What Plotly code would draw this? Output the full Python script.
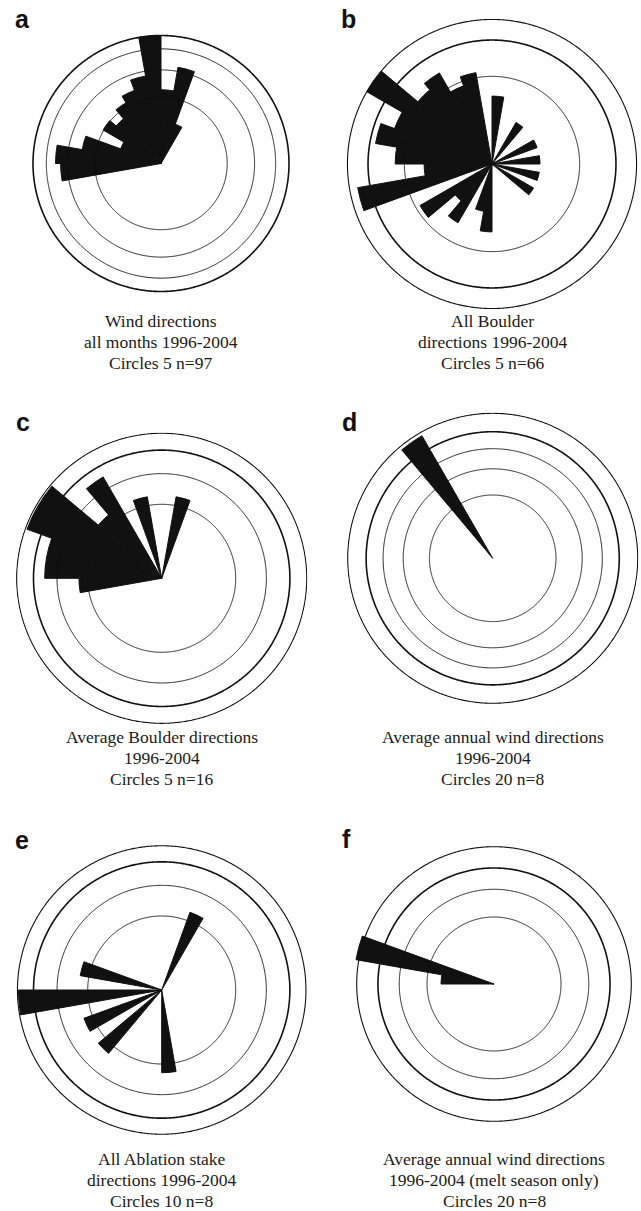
import numpy as np
import plotly.graph_objects as go

W, H = 641, 1211

# ---------------- data (percent of observations per 10-degree bin) ----------------
# a: Wind directions, all months 1996-2004, n=97
a_theta = [5, 15, 25, 265, 275, 285, 295, 305, 315, 325, 335, 345, 355]
a_pct = [6.2, 10.9, 2.0, 11.5, 12.7, 7.3, 2.1, 5.1, 3.9, 5.6, 6.9, 9.0, 18.7]
a_rings = [5, 10, 15, 18.7]
a_thick = [18.7]
a_caption = ["Wind directions", "all months 1996-2004", "Circles 5 n=97"]

# b: All Boulder directions 1996-2004, n=66
b_theta = [5, 35, 65, 85, 105, 125, 185, 195, 215, 225, 235,
           255, 265, 275, 285, 295, 305, 315, 325, 335, 345]
b_pct = [3.0, 1.5, 1.5, 1.5, 1.5, 1.5, 3.0, 1.5, 3.0, 1.5, 4.5,
         12.1, 3.0, 6.1, 9.1, 7.0, 13.6, 6.1, 7.2, 4.5, 5.6]
b_rings = [5, 10, 13.6]
b_thick = [10]
b_caption = ["All Boulder", "directions 1996-2004", "Circles 5 n=66"]

# c: Average Boulder directions 1996-2004, n=16
c_theta = [15, 265, 275, 285, 295, 305, 315, 325, 345]
c_pct = [6.25, 6.25, 12.5, 12.5, 18.75, 18.75, 6.25, 12.5, 6.25]
c_rings = [5, 10, 15, 19.2]
c_thick = [15]
c_caption = ["Average Boulder directions", "1996-2004", "Circles 5 n=16"]

# d: Average annual wind directions 1996-2004, n=8
d_theta = [325]
d_pct = [100.0]
d_rings = [20, 40, 60, 80, 105]
d_thick = [80]
d_caption = ["Average annual wind directions", "1996-2004", "Circles 20 n=8"]

# e: All Ablation stake directions 1996-2004, n=8
e_theta = [25, 175, 225, 245, 265, 285]
e_pct = [12.5, 12.5, 12.5, 12.5, 37.5, 12.5]
e_rings = [10, 20, 30, 38]
e_thick = [30]
e_caption = ["All Ablation stake", "directions 1996-2004", "Circles 10 n=8"]

# f: Average annual wind directions 1996-2004 (melt season only), n=8
f_theta = [275, 285]
f_pct = [12.5, 87.5]
f_rings = [20, 40, 60, 84]
f_thick = [60]
f_caption = ["Average annual wind directions", "1996-2004 (melt season only)", "Circles 20 n=8"]

labels = ["a", "b", "c", "d", "e", "f"]

panels = [
    (a_theta, a_pct, a_rings, a_thick, a_caption),
    (b_theta, b_pct, b_rings, b_thick, b_caption),
    (c_theta, c_pct, c_rings, c_thick, c_caption),
    (d_theta, d_pct, d_rings, d_thick, d_caption),
    (e_theta, e_pct, e_rings, e_thick, e_caption),
    (f_theta, f_pct, f_rings, f_thick, f_caption),
]

# ---------------- layout geometry (pixels) ----------------
centers = [(161, 163.5), (492, 164), (161.7, 578.3), (492.7, 558.3), (161.7, 990), (494, 984)]
scale_k = [29.6, 39.2, 33.1, 14.15, 23.4, 14.98]   # px per sqrt(percent)
R_DOM = 146
caption_y = [(321, 342, 362.5), (321, 342, 362.5), (737, 758, 779),
             (737, 758, 779), (1159, 1180, 1201), (1159, 1180, 1201)]
label_pos = [(13, 18.5), (339, 18.5), (14, 422), (339.5, 422), (13, 839.5), (340, 839)]

INK = "#111111"

fig = go.Figure()
layout_polars = {}
annotations = []

for i, (theta, pct, rings, thick, caption) in enumerate(panels):
    name = "polar" if i == 0 else f"polar{i+1}"
    cx, cy = centers[i]
    k = scale_k[i]
    rmax = R_DOM / k
    ring_theta = np.linspace(0, 360, 721)
    for j, rv in enumerate(rings):
        is_thick = rv in thick
        width = 1.6 if is_thick else (1.1 if j == len(rings) - 1 else 0.9)
        fig.add_trace(go.Scatterpolar(
            r=[np.sqrt(rv)] * len(ring_theta), theta=ring_theta, mode="lines",
            line=dict(color=INK, width=width), hoverinfo="skip", cliponaxis=False,
            subplot=name, showlegend=False))
    fig.add_trace(go.Barpolar(
        r=np.sqrt(np.array(pct, dtype=float)), theta=theta, width=[10] * len(theta),
        marker=dict(color=INK, line=dict(color=INK, width=1.0)),
        subplot=name, showlegend=False))
    layout_polars[name] = dict(
        domain=dict(x=[max(0, (cx - R_DOM) / W), min(1, (cx + R_DOM) / W)],
                    y=[max(0, 1 - (cy + R_DOM) / H), min(1, 1 - (cy - R_DOM) / H)]),
        bgcolor="rgba(0,0,0,0)",
        radialaxis=dict(visible=False, range=[0, rmax], showgrid=False, showline=False),
        angularaxis=dict(visible=False, rotation=90, direction="clockwise",
                         showgrid=False, showline=False),
        bargap=0,
    )
    for line_text, ly in zip(caption, caption_y[i]):
        annotations.append(dict(
            text=line_text, x=cx / W, y=1 - ly / H, xref="paper", yref="paper",
            xanchor="center", yanchor="middle", showarrow=False,
            font=dict(family="Liberation Serif", size=17.5, color="#1a1a1a")))
    lx, ly = label_pos[i]
    annotations.append(dict(
        text=f"<b>{labels[i]}</b>", x=lx / W, y=1 - ly / H, xref="paper", yref="paper",
        xanchor="left", yanchor="middle", showarrow=False,
        font=dict(family="Liberation Sans", size=25, color=INK)))

fig.update_layout(
    width=W, height=H, margin=dict(l=0, r=0, t=0, b=0),
    paper_bgcolor="white", plot_bgcolor="white",
    showlegend=False, annotations=annotations, **layout_polars)

fig.write_html("out.html", config={"displayModeBar": False, "staticPlot": True},
               post_script="document.body.style.margin='0';document.body.style.overflow='hidden';")
